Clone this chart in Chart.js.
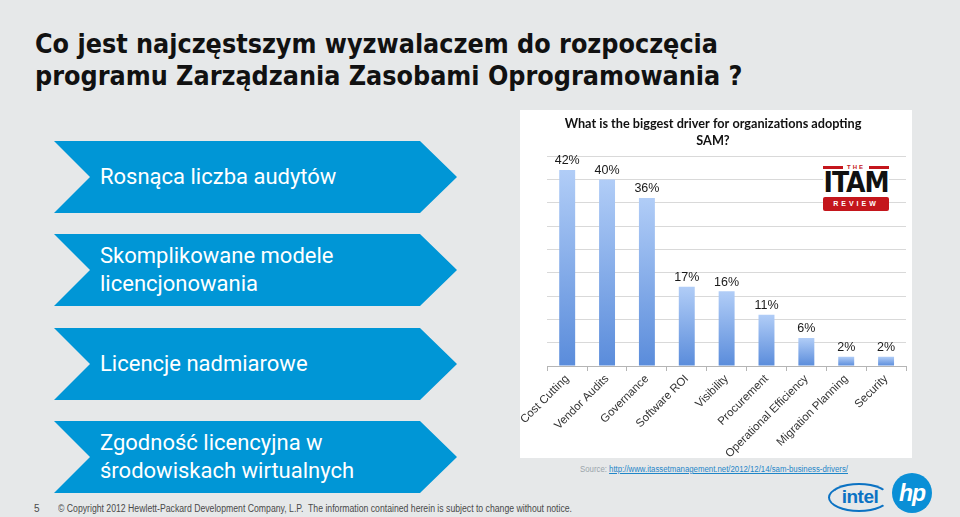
<!DOCTYPE html>
<html>
<head>
<meta charset="utf-8">
<script src="https://cdn.jsdelivr.net/npm/chart.js@4.4.1/dist/chart.umd.min.js"></script>
<style>
  html,body{margin:0;padding:0;}
  body{width:960px;height:517px;background:#e6e8e9;position:relative;overflow:hidden;font-family:"Liberation Sans",Arial,sans-serif;}
  .tl{position:absolute;left:35px;font-family:"DejaVu Sans Condensed","DejaVu Sans",sans-serif;font-weight:bold;font-size:27px;line-height:32px;color:#111;white-space:nowrap;transform-origin:0 50%;}
  .chev{position:absolute;left:54px;width:403px;height:72px;background:#0096d6;
        clip-path:polygon(0 0,366px 0,403px 36px,366px 72px,0 72px,36px 36px);}
  .chev span{position:absolute;left:46px;top:50%;transform:translateY(-50%);color:#fff;font-family:Roboto,sans-serif;font-size:22px;line-height:28px;white-space:nowrap;}
  #box{position:absolute;left:520px;top:110px;width:392px;height:348px;background:#fff;}
  .itam{position:absolute;left:823px;top:163px;width:66px;height:49px;background:#fff;}
  .itam .the{position:absolute;top:2px;left:0;width:66px;height:5px;}
  .itam .the i{position:absolute;top:1px;height:3px;width:20px;background:#c4161c;}
  .itam .the b{position:absolute;left:0;width:66px;text-align:center;top:-1px;font-size:6px;letter-spacing:2px;color:#c4161c;font-weight:bold;}
  .itam .big{position:absolute;top:5px;left:0;width:66px;text-align:center;font-family:"DejaVu Sans Condensed",sans-serif;font-weight:bold;font-size:28px;line-height:30px;color:#111;letter-spacing:-1px;}
  .itam .rev{position:absolute;top:34px;left:0;width:66px;height:14px;background:#c4161c;border-radius:2px;color:#fff;font-size:7px;font-weight:bold;letter-spacing:3px;text-align:center;line-height:14px;}
  .fit{position:absolute;white-space:nowrap;transform-origin:0 50%;}
  .src{left:580px;top:464px;font-size:8.5px;color:#9aa5ab;}
  .src a{color:#1f86c8;text-decoration:underline;}
  .foot{top:503px;font-size:10px;color:#4a4a4a;}
  .intel{position:absolute;left:828px;top:483px;width:58px;height:25px;border:2.5px solid #0b72c3;border-radius:50%;border-right-color:transparent;}
  .intel span{position:absolute;left:4px;top:0px;width:52px;text-align:center;font-size:19px;font-weight:bold;color:#0b72c3;line-height:24px;letter-spacing:-0.5px;}
  .hp{position:absolute;left:892px;top:473px;width:40px;height:40px;border-radius:50%;background:#0a8fd6;color:#fff;font-size:23px;font-weight:bold;font-style:italic;text-align:center;line-height:40px;letter-spacing:-1px;}
</style>
</head>
<body>
<div class="tl" id="t1" style="top:28px">Co jest najczęstszym wyzwalaczem do rozpoczęcia</div>
<div class="tl" id="t2" style="top:60px">programu Zarządzania Zasobami Oprogramowania ?</div>

<div class="chev" style="top:141px"><span>Rosnąca liczba audytów</span></div>
<div class="chev" style="top:234px"><span>Skomplikowane modele<br>licencjonowania</span></div>
<div class="chev" style="top:328px"><span>Licencje nadmiarowe</span></div>
<div class="chev" style="top:421px"><span>Zgodność licencyjna w<br>środowiskach wirtualnych</span></div>

<div id="box"><canvas id="c"></canvas></div>

<div class="itam">
  <div class="the"><i style="left:0"></i><i style="right:0"></i><b>THE</b></div>
  <div class="big">ITAM</div>
  <div class="rev">REVIEW</div>
</div>

<div class="fit src" id="src">Source: <a>http://www.itassetmanagement.net/2012/12/14/sam-business-drivers/</a></div>
<div class="fit foot" style="left:34px">5</div>
<div class="fit foot" id="copy" style="left:58px">© Copyright 2012 Hewlett-Packard Development Company, L.P.&nbsp; The information contained herein is subject to change without notice.</div>
<div class="intel"><span>intel</span></div>
<div class="hp">hp</div>

<script>
const categories = ['Cost Cutting','Vendor Audits','Governance','Software ROI','Visibility','Procurement','Operational Efficiency','Migration Planning','Security'];
const shares = [42,40,36,17,16,11,6,2,2];
const chartTitle = ['What is the biggest driver for organizations adopting','SAM?'];
const yMin = 0, yMax = 45, yStep = 5;

// fit text blocks horizontally to the widths seen in the reference
function fitWidth(id, w){
  const el = document.getElementById(id);
  const s = w / el.getBoundingClientRect().width;
  el.style.transform = 'scaleX(' + s + ')';
  return s;
}
const ts = fitWidth('t1', 683);
document.getElementById('t2').style.transform = 'scaleX(' + ts + ')';
fitWidth('copy', 514);
fitWidth('src', 268);

function barGradient(ctx){
  const chart = ctx.chart;
  if (!chart.chartArea || ctx.dataIndex === undefined) return '#7ea6e6';
  const y = chart.scales.y;
  const top = y.getPixelForValue(ctx.dataset.data[ctx.dataIndex]);
  const bot = y.getPixelForValue(0);
  const g = chart.ctx.createLinearGradient(0, top, 0, bot);
  g.addColorStop(0, '#b1cdf7');
  g.addColorStop(1, '#5a8cdb');
  return g;
}

const valueLabels = {
  id: 'valueLabels',
  afterDatasetsDraw(chart){
    const c = chart.ctx;
    const meta = chart.getDatasetMeta(0);
    c.save();
    c.font = '12.5px "Liberation Sans", Arial, sans-serif';
    c.fillStyle = '#1a1a1a';
    c.textAlign = 'center';
    c.textBaseline = 'bottom';
    meta.data.forEach((bar, i) => {
      c.fillText(shares[i] + '%', bar.x, bar.y - 3);
    });
    c.restore();
  }
};

new Chart(document.getElementById('c'), {
  type: 'bar',
  data: {
    labels: categories,
    datasets: [{
      data: shares,
      backgroundColor: barGradient,
      borderWidth: 0,
      barPercentage: 0.4,
      categoryPercentage: 1
    }]
  },
  plugins: [valueLabels],
  options: {
    responsive: true,
    maintainAspectRatio: false,
    animation: false,
    layout: { padding: { left: 0, right: 6, top: 0, bottom: 0 } },
    plugins: {
      legend: { display: false },
      tooltip: { enabled: false },
      title: {
        display: true,
        text: chartTitle,
        color: '#111',
        font: { family: 'Lato, sans-serif', size: 12.7, weight: 'bold', lineHeight: 1.38 },
        padding: { top: 5, bottom: 6 }
      }
    },
    scales: {
      x: {
        grid: { display: true, drawOnChartArea: false, tickLength: 5, color: '#b5b5b5' },
        border: { display: true, color: '#b5b5b5' },
        ticks: {
          minRotation: 45, maxRotation: 45, padding: 1,
          color: '#333',
          font: { family: '"Liberation Sans", Arial, sans-serif', size: 11.5 }
        },
        afterFit(scale){ scale.height = 92; }
      },
      y: {
        min: yMin, max: yMax,
        ticks: { display: false, stepSize: yStep },
        grid: { color: '#d9d9d9', drawTicks: false },
        border: { display: false },
        afterFit(scale){ scale.width = 26; }
      }
    }
  }
});
</script>
</body>
</html>
